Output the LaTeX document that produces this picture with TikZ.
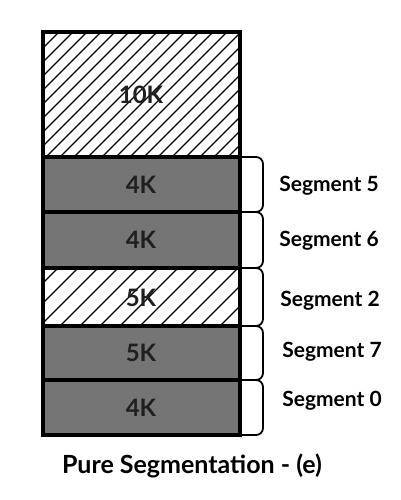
\documentclass[tikz,border=0pt]{standalone}
\usepackage{fontspec}
\setmainfont{Lato}
\begin{document}
\begin{tikzpicture}[x=1pt,y=-1pt,
  blk/.style={draw=black,line width=3.5pt},
  grayblk/.style={blk,fill=segGray},
  lbl/.style={font=\bfseries\fontsize{24}{28}\selectfont,text=black!88},
  seglbl/.style={font=\bfseries\fontsize{21}{24}\selectfont,text=black},
  brk/.style={draw=black,line width=1.8pt,rounded corners=7pt},
  hatch/.style={draw=black,line width=1.1pt}]
\definecolor{segGray}{HTML}{757575}
\useasboundingbox (0,0) rectangle (400,500);
% 10K hatched
\begin{scope}
  \clip (43,32) rectangle (240,157);
  \foreach \i in {-150,-136,...,240} {
    \draw[hatch] (\i,157) -- (\i+125,32);
  }
\end{scope}
\draw[blk] (43,32) rectangle (240,157);
\node[lbl] (b1) at (141,95) {10K};
% gray 4K
\draw[grayblk] (43,157) rectangle (240,212);
\node[lbl] (b2) at (141,185) {4K};
\draw[grayblk] (43,212) rectangle (240,268);
\node[lbl] (b3) at (141,240) {4K};
% 5K hatched
\begin{scope}
  \clip (43,268) rectangle (240,326);
  \foreach \i in {-60,-40,...,240} {
    \draw[hatch] (\i,326) -- (\i+58,268);
  }
\end{scope}
\draw[blk] (43,268) rectangle (240,326);
\node[lbl] (b4) at (141,298) {5K};
\draw[grayblk] (43,326) rectangle (240,380);
\node[lbl] (b5) at (141,353) {5K};
\draw[grayblk] (43,380) rectangle (240,435);
\node[lbl] (b6) at (141,408) {4K};
% brackets
\foreach \t/\b in {157/212,212/268,268/326,326/380,380/435} {
  \draw[brk] (240,\t) -- (263,\t) -- (263,\b) -- (240,\b);
}
\node[seglbl] (s5) at (329,186) {Segment 5};
\node[seglbl] (s6) at (329,241) {Segment 6};
\node[seglbl] (s2) at (330,301) {Segment 2};
\node[seglbl] (s7) at (332,352) {Segment 7};
\node[seglbl] (s0) at (332,401) {Segment 0};
\node[font=\bfseries\fontsize{25}{30}\selectfont,text=black] (t) at (192,466) {Pure Segmentation - (e)};
\end{tikzpicture}
\end{document}
